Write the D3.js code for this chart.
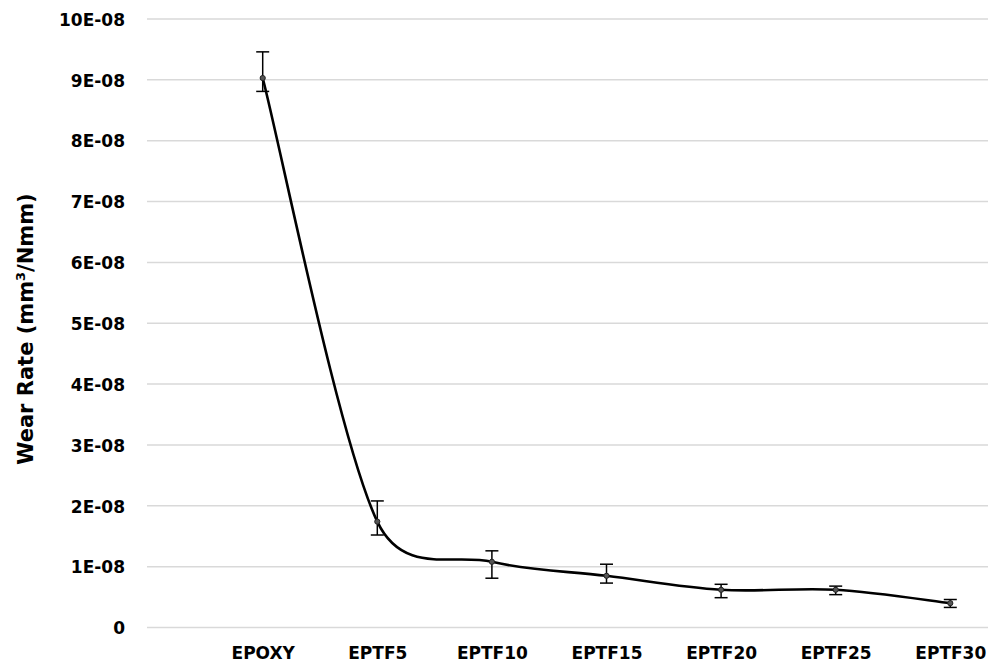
<!DOCTYPE html>
<html>
<head>
<meta charset="utf-8">
<script src="https://cdn.jsdelivr.net/npm/d3@7"></script>
<style>
  html, body { margin: 0; padding: 0; background: #fff; }
  svg { display: block; }
  text { font-family: "DejaVu Sans", Verdana, sans-serif; font-weight: bold; fill: #000; }
</style>
</head>
<body>
<svg id="chart" width="988" height="664"></svg>
<script>
// Wear rate of epoxy and PTFE-filled composites (units of 1E-08 mm^3/Nmm)
const categories = ["EPOXY", "EPTF5", "EPTF10", "EPTF15", "EPTF20", "EPTF25", "EPTF30"];
const wearRate   = [9.03, 1.74, 1.08, 0.85, 0.62, 0.62, 0.40];
const errUpper   = [9.46, 2.08, 1.26, 1.04, 0.71, 0.68, 0.46];
const errLower   = [8.81, 1.52, 0.81, 0.73, 0.49, 0.54, 0.33];
const yTicks     = [0, 1, 2, 3, 4, 5, 6, 7, 8, 9, 10];
const yTickLabels = ["0", "1E-08", "2E-08", "3E-08", "4E-08", "5E-08", "6E-08", "7E-08", "8E-08", "9E-08", "10E-08"];

const svg = d3.select("#chart");
const plot = { left: 147, right: 988, top: 19, bottom: 627.5 };

const x = d3.scalePoint()
  .domain(categories)
  .range([262.7, 950.3]);

const y = d3.scaleLinear()
  .domain([0, 10])
  .range([plot.bottom, plot.top]);

// Spreadsheet-style smoothing: cardinal Bezier with tension 1/6,
// control arms limited to half of their segment's length.
function SmoothLine(context) { this._context = context; }
SmoothLine.prototype = {
  areaStart() {}, areaEnd() {},
  lineStart() { this._pts = []; },
  point(px, py) { this._pts.push([+px, +py]); },
  lineEnd() {
    const p = this._pts, n = p.length, ctx = this._context;
    if (!n) return;
    ctx.moveTo(p[0][0], p[0][1]);
    if (n === 1) return;
    const arm = (i, seg) => {
      const a = p[Math.max(i - 1, 0)], b = p[Math.min(i + 1, n - 1)];
      let vx = (b[0] - a[0]) / 6, vy = (b[1] - a[1]) / 6;
      const len = Math.hypot(vx, vy), lim = seg / 2;
      if (len > lim && len > 0) { vx *= lim / len; vy *= lim / len; }
      return [vx, vy];
    };
    for (let i = 0; i < n - 1; i++) {
      const seg = Math.hypot(p[i + 1][0] - p[i][0], p[i + 1][1] - p[i][1]);
      const a1 = arm(i, seg), a2 = arm(i + 1, seg);
      ctx.bezierCurveTo(
        p[i][0] + a1[0], p[i][1] + a1[1],
        p[i + 1][0] - a2[0], p[i + 1][1] - a2[1],
        p[i + 1][0], p[i + 1][1]);
    }
  }
};
const smoothCurve = context => new SmoothLine(context);

// horizontal gridlines
svg.append("g")
  .selectAll("line")
  .data(yTicks)
  .join("line")
  .attr("x1", plot.left)
  .attr("x2", plot.right)
  .attr("y1", d => y(d))
  .attr("y2", d => y(d))
  .attr("stroke", "#d9d9d9")
  .attr("stroke-width", 1.5);

// y-axis tick labels
const yAxis = d3.axisLeft(y)
  .tickValues(yTicks)
  .tickFormat((d, i) => yTickLabels[i])
  .tickSize(0)
  .tickPadding(0);
const gy = svg.append("g")
  .attr("transform", `translate(125,0)`)
  .call(yAxis);
gy.select(".domain").remove();
gy.selectAll("text")
  .attr("font-family", "DejaVu Sans, Verdana, sans-serif")
  .attr("font-weight", "bold")
  .attr("font-size", 17)
  .attr("fill", "#000")
  .attr("dy", "0.37em");

// x-axis category labels
const xAxis = d3.axisBottom(x).tickSize(0).tickPadding(0);
const gx = svg.append("g")
  .attr("transform", `translate(0,647)`)
  .call(xAxis);
gx.select(".domain").remove();
gx.selectAll("text")
  .attr("font-family", "DejaVu Sans, Verdana, sans-serif")
  .attr("font-weight", "bold")
  .attr("font-size", 17)
  .attr("fill", "#000")
  .attr("dy", "0.71em");

// y-axis title
const title = svg.append("text")
  .attr("transform", "translate(33,329) rotate(-90)")
  .attr("text-anchor", "middle")
  .attr("font-size", 21);
title.append("tspan").text("Wear Rate (mm");
title.append("tspan").attr("font-size", 13).attr("dy", -8).text("3");
title.append("tspan").attr("dy", 8).text("/Nmm)");

const pts = categories.map((c, i) => ({ c, v: wearRate[i], hi: errUpper[i], lo: errLower[i] }));

// smoothed series line
const line = d3.line()
  .x(d => x(d.c))
  .y(d => y(d.v))
  .curve(smoothCurve);

svg.append("path")
  .datum(pts)
  .attr("d", line)
  .attr("fill", "none")
  .attr("stroke", "#000")
  .attr("stroke-width", 2.6);

// error bars
const eb = svg.append("g")
  .attr("stroke", "#000")
  .attr("stroke-width", 1.5);
eb.selectAll("line.v")
  .data(pts)
  .join("line")
  .attr("class", "v")
  .attr("x1", d => x(d.c)).attr("x2", d => x(d.c))
  .attr("y1", d => y(d.hi)).attr("y2", d => y(d.lo));
eb.selectAll("line.t")
  .data(pts)
  .join("line")
  .attr("class", "t")
  .attr("x1", d => x(d.c) - 6.5).attr("x2", d => x(d.c) + 6.5)
  .attr("y1", d => y(d.hi)).attr("y2", d => y(d.hi));
eb.selectAll("line.b")
  .data(pts)
  .join("line")
  .attr("class", "b")
  .attr("x1", d => x(d.c) - 6.5).attr("x2", d => x(d.c) + 6.5)
  .attr("y1", d => y(d.lo)).attr("y2", d => y(d.lo));

// point markers
svg.append("g")
  .selectAll("circle")
  .data(pts)
  .join("circle")
  .attr("cx", d => x(d.c))
  .attr("cy", d => y(d.v))
  .attr("r", 2.6)
  .attr("fill", "#555")
  .attr("stroke", "#222")
  .attr("stroke-width", 1);
</script>
</body>
</html>
